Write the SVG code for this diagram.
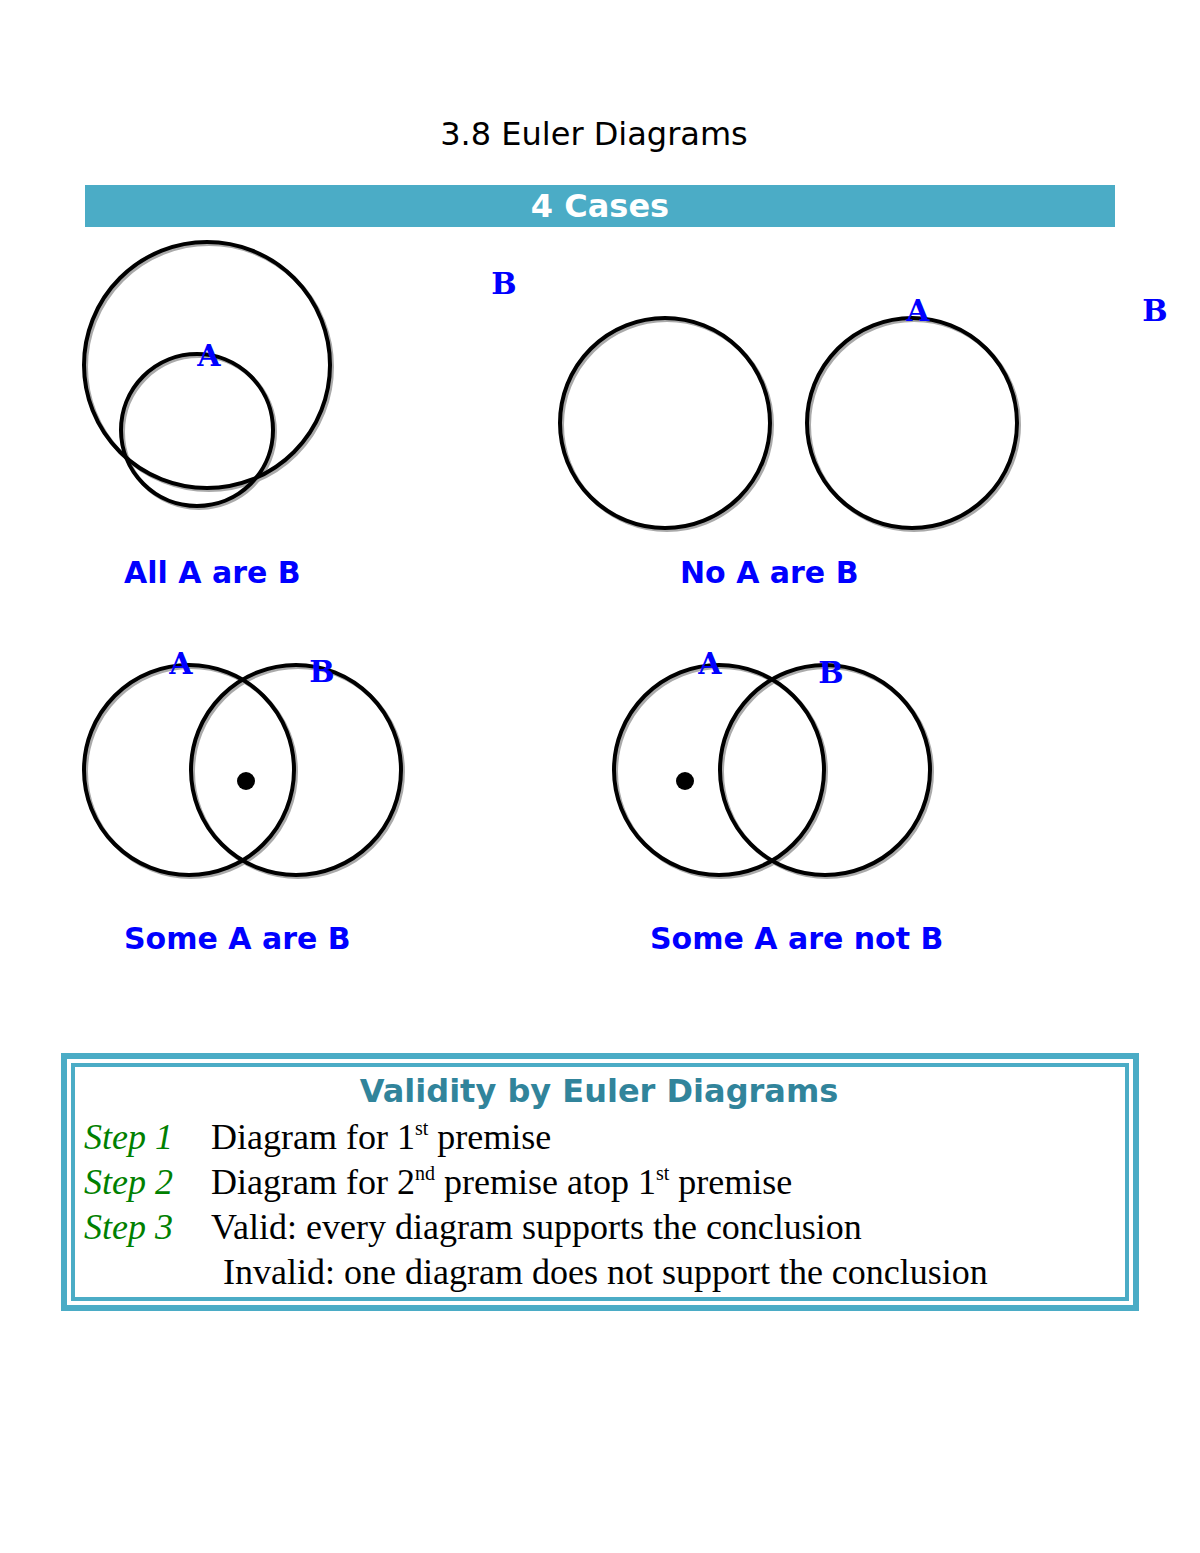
<svg xmlns="http://www.w3.org/2000/svg" width="1200" height="1553" viewBox="0 0 1200 1553">
<style>
.c{fill:none;stroke:#000;stroke-width:4}
.sh{fill:none;stroke:#aaa;stroke-width:4}
.lab{font-family:"DejaVu Sans",sans-serif;font-weight:bold;font-size:30px;fill:#0000ff}
.ab{font-family:"DejaVu Serif","Liberation Serif",serif;font-weight:bold;font-size:30px;fill:#0000ff;text-anchor:middle}
.st{font-family:"Liberation Serif",serif;font-style:italic;font-size:36px;fill:#008000}
.tx{font-family:"Liberation Serif",serif;font-size:36px;fill:#000}
.sup{font-size:20px}
</style>
<rect width="1200" height="1553" fill="#fff"/>
<text x="594" y="145" text-anchor="middle" font-family="DejaVu Sans,sans-serif" font-size="32">3.8 Euler Diagrams</text>
<rect x="85" y="185" width="1030" height="42" fill="#4BACC6"/>
<text x="600" y="217" text-anchor="middle" font-family="DejaVu Sans,sans-serif" font-weight="bold" font-size="32" fill="#fff">4 Cases</text>
<g id="all">
<circle class="sh" cx="209" cy="367" r="123"/><circle class="sh" cx="199" cy="432" r="76"/>
<circle class="c" cx="207" cy="365" r="123"/><circle class="c" cx="197" cy="430" r="76"/>
<text class="ab" x="209" y="366">A</text><text class="ab" x="504" y="294">B</text>
<text class="lab" x="124" y="583">All A are B</text>
</g>
<g id="no">
<circle class="sh" cx="667" cy="425" r="105"/><circle class="sh" cx="914" cy="425" r="105"/>
<circle class="c" cx="665" cy="423" r="105"/><circle class="c" cx="912" cy="423" r="105"/>
<text class="ab" x="918" y="321">A</text><text class="ab" x="1155" y="321">B</text>
<text class="lab" x="680" y="583">No A are B</text>
</g>
<g id="some">
<circle class="sh" cx="191" cy="772" r="105"/><circle class="sh" cx="298" cy="772" r="105"/>
<circle class="c" cx="189" cy="770" r="105"/><circle class="c" cx="296" cy="770" r="105"/>
<circle cx="246" cy="781" r="9"/>
<text class="ab" x="181" y="674">A</text><text class="ab" x="322" y="682">B</text>
<text class="lab" x="124" y="949">Some A are B</text>
</g>
<g id="somenot">
<circle class="sh" cx="721" cy="772" r="105"/><circle class="sh" cx="827" cy="772" r="105"/>
<circle class="c" cx="719" cy="770" r="105"/><circle class="c" cx="825" cy="770" r="105"/>
<circle cx="685" cy="781" r="9"/>
<text class="ab" x="710" y="674">A</text><text class="ab" x="831" y="683">B</text>
<text class="lab" x="650" y="949">Some A are not B</text>
</g>
<g id="validity">
<rect x="64" y="1056" width="1072" height="252" fill="none" stroke="#4BACC6" stroke-width="6"/>
<rect x="73" y="1065" width="1054" height="234" fill="none" stroke="#4BACC6" stroke-width="4"/>
<text x="599" y="1102" text-anchor="middle" font-family="DejaVu Sans,sans-serif" font-weight="bold" font-size="32" fill="#31849B">Validity by Euler Diagrams</text>
<text class="st" x="84" y="1149">Step 1</text>
<text class="st" x="84" y="1194">Step 2</text>
<text class="st" x="84" y="1239">Step 3</text>
<text class="tx" x="211" y="1149">Diagram for 1<tspan class="sup" dy="-14">st</tspan><tspan dy="14"> premise</tspan></text>
<text class="tx" x="211" y="1194">Diagram for 2<tspan class="sup" dy="-14">nd</tspan><tspan dy="14"> premise atop 1</tspan><tspan class="sup" dy="-14">st</tspan><tspan dy="14"> premise</tspan></text>
<text class="tx" x="211" y="1239">Valid: every diagram supports the conclusion</text>
<text class="tx" x="223" y="1284">Invalid: one diagram does not support the conclusion</text>
</g>
</svg>
